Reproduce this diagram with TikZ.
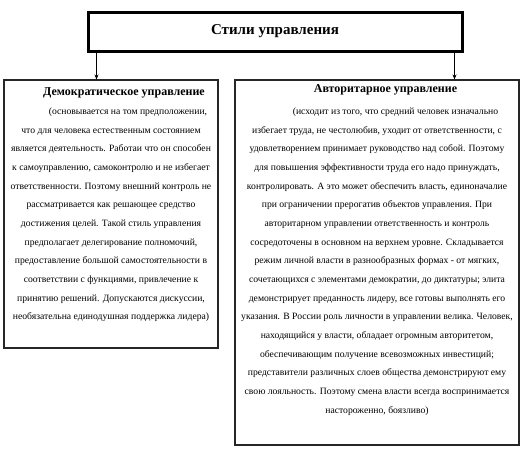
\documentclass[tikz,border=0pt]{standalone}
\usepackage{fontspec}
\setmainfont{Liberation Serif}
\usetikzlibrary{arrows.meta}
\begin{document}
\begin{tikzpicture}[x=1pt,y=-1pt,
  topbox/.style={draw=black,line width=3pt,minimum width=374pt,minimum height=39pt,inner sep=0pt,
    font=\fontsize{15}{17}\selectfont\bfseries},
  stylebox/.style={draw=black!85,line width=1.1pt,inner sep=0pt},
  bodytext/.style={align=center,inner sep=0pt,font=\fontsize{9.65}{18.67}\selectfont},
  arr/.style={line width=0.6pt,-{Stealth[length=5pt,width=4pt]}}]
\useasboundingbox (0,0) rectangle (527,451);
\node[topbox] (top) at (275,31.5) {Стили управления};
\node[stylebox,minimum width=214pt,minimum height=268pt] (left) at (111,214) {};
\node[stylebox,minimum width=284pt,minimum height=365pt] (right) at (377,262.5) {};
\draw[arr] ([xshift=10pt]top.south west) -- ([xshift=10pt]top.south west |- left.north);
\draw[arr] ([xshift=-9pt]top.south east) -- ([xshift=-9pt]top.south east |- right.north);
\node[bodytext] (lefttext) at (111,205) {%
\hspace*{26pt}{\fontsize{12}{18.67}\selectfont\bfseries Демократическое управление}\\
\hspace*{34pt}(основывается на том предположении,\\
что для человека естественным состоянием\\
является деятельность. Работаи что он способен\\
к самоуправлению, самоконтролю и не избегает\\
ответственности. Поэтому внешний контроль не\\
рассматривается как решающее средство\\
достижения целей. Такой стиль управления\\
предполагает делегирование полномочий,\\
предоставление большой самостоятельности в\\
соответствии с функциями, привлечение к\\
принятию решений. Допускаются дискуссии,\\
необязательна единодушная поддержка лидера)};
\node[bodytext] (righttext) at (377,250) {%
\hspace*{17pt}{\fontsize{12}{18.67}\selectfont\bfseries Авторитарное управление}\\[3pt]
\hspace*{37pt}(исходит из того, что средний человек изначально\\
избегает труда, не честолюбив, уходит от ответственности, с\\
удовлетворением принимает руководство над собой. Поэтому\\
для повышения эффективности труда его надо принуждать,\\
контролировать. А это может обеспечить власть, единоначалие\\
при ограничении прерогатив объектов управления. При\\
авторитарном управлении ответственность и контроль\\
сосредоточены в основном на верхнем уровне. Складывается\\
режим личной власти в разнообразных формах - от мягких,\\
сочетающихся с элементами демократии, до диктатуры; элита\\
демонстрирует преданность лидеру, все готовы выполнять его\\
указания. В России роль личности в управлении велика. Человек,\\
находящийся у власти, обладает огромным авторитетом,\\
обеспечивающим получение всевозможных инвестиций;\\
представители различных слоев общества демонстрируют ему\\
свою лояльность. Поэтому смена власти всегда воспринимается\\
настороженно, боязливо)};
\end{tikzpicture}
\end{document}
